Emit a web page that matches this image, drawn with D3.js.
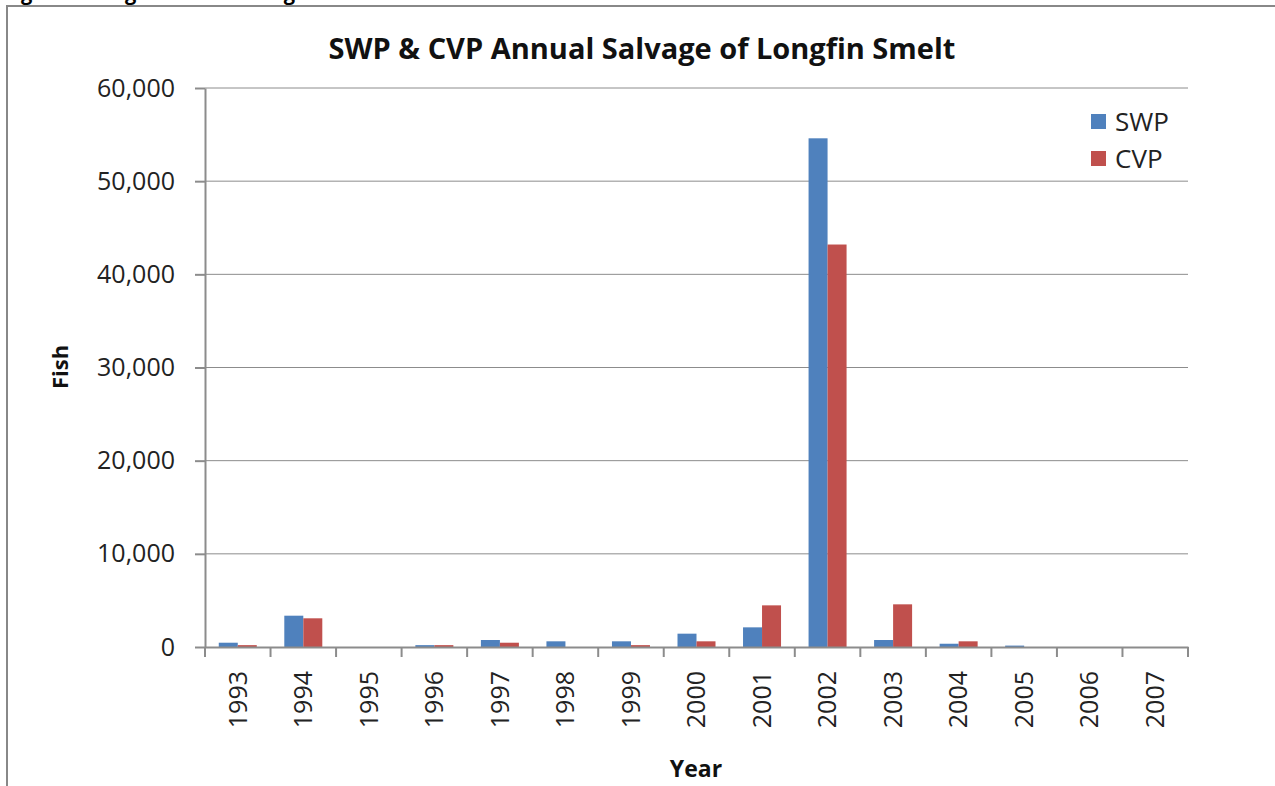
<!DOCTYPE html>
<html>
<head>
<meta charset="utf-8">
<script src="https://cdn.jsdelivr.net/npm/d3@7"></script>
<style>
body { margin: 0; background: #fff; }
text { font-family: "Open Sans", "Liberation Sans", sans-serif; }
</style>
</head>
<body>
<svg id="chart" width="1275" height="786"></svg>
<script>
var years = ["1993","1994","1995","1996","1997","1998","1999","2000","2001","2002","2003","2004","2005","2006","2007"];
var swp = [460, 3360, 0, 200, 750, 610, 610, 1430, 2110, 54600, 750, 350, 150, 0, 0];
var cvp = [200, 3080, 0, 200, 460, 0, 200, 610, 4470, 43200, 4580, 610, 0, 0, 0];
var seriesNames = ["SWP", "CVP"];
var seriesColors = ["#4F81BD", "#C0504D"];
var yTicks = [0, 10000, 20000, 30000, 40000, 50000, 60000];

var svg = d3.select("#chart");
var plotLeft = 205, plotRight = 1188, plotTop = 88, plotBottom = 647;

// caption cut off at the top of the page
svg.append("text").text("Figure 5 Longfin Smelt Salvage at the SWP and CVP")
    .attr("x", 4).attr("y", 0)
    .style("font-weight", "bold").style("font-size", "20px");

// chart frame
svg.append("rect").attr("x", 7).attr("y", 6).attr("width", 1290).attr("height", 800)
    .attr("fill", "none").attr("stroke", "#888").attr("stroke-width", 2);

var x = d3.scaleBand().domain(years).range([plotLeft, plotRight]).paddingInner(0).paddingOuter(0);
var y = d3.scaleLinear().domain([0, 60000]).range([plotBottom, plotTop]);
var inner = 38 / 65.53;
var x1 = d3.scaleBand().domain(seriesNames)
    .range([x.bandwidth() * (1 - inner) / 2, x.bandwidth() * (1 + inner) / 2]);

// gridlines
svg.append("g").selectAll("line").data(yTicks.slice(1)).enter().append("line")
    .attr("x1", plotLeft).attr("x2", plotRight)
    .attr("y1", d => y(d)).attr("y2", d => y(d))
    .attr("stroke", "#8c8c8c").attr("stroke-width", 1);

// bars
var data = years.map((yr, i) => ({year: yr, vals: [swp[i], cvp[i]]}));
var groups = svg.append("g").selectAll("g").data(data).enter().append("g")
    .attr("transform", d => "translate(" + x(d.year) + ",0)");
groups.selectAll("rect").data(d => d.vals.map((v, j) => ({name: seriesNames[j], v: v, c: seriesColors[j]})))
    .enter().append("rect")
    .attr("x", d => x1(d.name))
    .attr("width", x1.bandwidth())
    .attr("y", d => y(d.v))
    .attr("height", d => plotBottom - y(d.v))
    .attr("fill", d => d.c);

// y axis
var yAxis = svg.append("g").attr("transform", "translate(" + plotLeft + ",0)")
    .call(d3.axisLeft(y).tickValues(yTicks).tickFormat(d3.format(",")).tickSize(10).tickSizeOuter(0));
yAxis.select(".domain").attr("stroke", "#8c8c8c").attr("stroke-width", 2);
yAxis.selectAll(".tick line").attr("stroke", "#8c8c8c").attr("stroke-width", 2);
yAxis.selectAll(".tick text").attr("x", -30).style("font-size", "25px").attr("fill", "#222");

// x axis
var xAxis = svg.append("g").attr("transform", "translate(0," + plotBottom + ")")
    .call(d3.axisBottom(x).tickSize(0).tickSizeOuter(0));
xAxis.select(".domain").attr("stroke", "#8c8c8c").attr("stroke-width", 2);
xAxis.selectAll(".tick text")
    .attr("transform", "rotate(-90)")
    .attr("x", -24).attr("y", 0).attr("dy", "0.35em")
    .style("text-anchor", "end").style("font-size", "25px").attr("fill", "#222");
svg.append("g").selectAll("line").data(years.concat(["end"])).enter().append("line")
    .attr("x1", (d, i) => plotLeft + i * x.step()).attr("x2", (d, i) => plotLeft + i * x.step())
    .attr("y1", plotBottom).attr("y2", plotBottom + 10)
    .attr("stroke", "#8c8c8c").attr("stroke-width", 2);

// titles
svg.append("text").text("SWP & CVP Annual Salvage of Longfin Smelt")
    .attr("x", 642).attr("y", 59).attr("text-anchor", "middle")
    .style("font-weight", "bold").style("font-size", "29px").attr("fill", "#111");
svg.append("text").text("Fish")
    .attr("transform", "translate(68,367) rotate(-90)").attr("text-anchor", "middle")
    .style("font-weight", "bold").style("font-size", "22px").attr("fill", "#111");
svg.append("text").text("Year")
    .attr("x", 696).attr("y", 777).attr("text-anchor", "middle")
    .style("font-weight", "bold").style("font-size", "23px").attr("fill", "#111");

// legend
var legend = svg.append("g").selectAll("g").data(seriesNames).enter().append("g")
    .attr("transform", (d, i) => "translate(1091," + (114 + i * 37) + ")");
legend.append("rect").attr("width", 15).attr("height", 15).attr("fill", (d, i) => seriesColors[i]);
legend.append("text").text(d => d).attr("x", 24).attr("y", 8).attr("dy", "0.35em")
    .style("font-size", "26px").attr("fill", "#222");
</script>
</body>
</html>
